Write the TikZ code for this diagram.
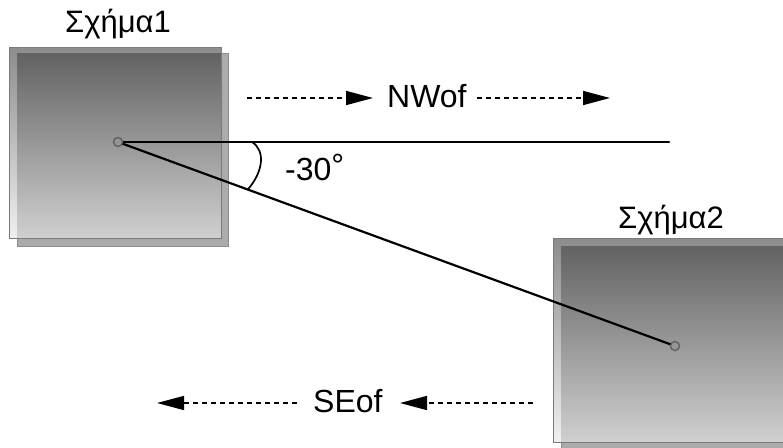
\documentclass[tikz,border=0pt]{standalone}
\usepackage{fontspec}
\setmainfont{Liberation Sans}
\usetikzlibrary{arrows.meta,calc}
\definecolor{backFill}{HTML}{ABABAB}
\definecolor{backLine}{HTML}{8E8E8E}
\definecolor{stripTop}{HTML}{8C8C8C}
\definecolor{stripBot}{HTML}{F0F0F0}
\definecolor{coreTop}{HTML}{626262}
\definecolor{coreBot}{HTML}{D0D0D0}
\definecolor{frameLine}{HTML}{7A7A7A}
\definecolor{dotFill}{HTML}{959595}
\definecolor{dotLine}{HTML}{626262}
\begin{document}
\begin{tikzpicture}[x=1pt,y=-1pt,
  lbl/.style={font=\fontsize{32}{32}\selectfont, inner sep=0pt, anchor=base west},
  title/.style={lbl, font=\fontsize{31}{31}\selectfont},
  dasharrow/.style={line width=1.6pt, dash pattern=on 5pt off 4pt,
    -{Triangle[length=27pt,width=14pt,sep=0pt]}},
  link/.style={line width=2.2pt, line cap=round},
  spot/.style={circle, minimum size=9pt, inner sep=0pt, fill=dotFill, draw=dotLine, line width=1.4pt},
  arcline/.style={line width=1.7pt}
]
\useasboundingbox (0,0) rectangle (783,447);
\clip (0,0) rectangle (783,447);

% --- first figure: back plate, front plate, overlapping core ---
\fill[backFill] (17,53) rectangle (228,246);
\draw[backLine, line width=1pt] (17,53) rectangle (228,246);
\shade[top color=stripTop, bottom color=stripBot] (9,47) rectangle (221,238);
\shade[top color=coreTop, bottom color=coreBot] (17,53) rectangle (221,238);
\draw[frameLine, line width=1pt] (9,47) rectangle (221,238);

% --- second figure ---
\fill[backFill] (561,246) rectangle (800,460);
\draw[backLine, line width=1pt] (561,246) rectangle (800,460);
\shade[top color=stripTop, bottom color=stripBot] (553,238) rectangle (795,442);
\shade[top color=coreTop, bottom color=coreBot] (561,246) rectangle (795,442);
\draw[frameLine, line width=1pt] (553,238) rectangle (795,442);

% --- titles ---
\node[title] (t1) at (65,32) {Σχήμα1};
\node[title] (t2) at (618,228) {Σχήμα2};

% --- reference points and connecting lines ---
\coordinate (c1) at (118,142);
\coordinate (c2) at (675,346);
\coordinate (hEnd) at (669,142);
\draw[link] (c1) -- (hEnd);
\draw[link] (c1) -- (c2);
\node[spot] (d1) at (c1) {};
\node[spot] (d2) at (c2) {};

% --- angle mark ---
\coordinate (a1) at (252,142);
\coordinate (a2) at ($(c1)!0.233!(c2)$);
\draw[arcline] (a1) .. controls (266,151) and (263,172) .. (a2);
\node[lbl] (ang) at (285,180) {-30\raisebox{4pt}{°}};

% --- direction arrows ---
\node[lbl] (nw) at (387,107) {NWof};
\coordinate (n1s) at (247,98);
\coordinate (n1e) at (373,98);
\coordinate (n2s) at (477,98);
\coordinate (n2e) at (610,98);
\draw[dasharrow] (n1s) -- (n1e);
\draw[dasharrow] (n2s) -- (n2e);

\node[lbl] (se) at (313,412) {SEof};
\coordinate (s1s) at (297,403);
\coordinate (s1e) at (157,403);
\coordinate (s2s) at (533,403);
\coordinate (s2e) at (400,403);
\draw[dasharrow] (s1s) -- (s1e);
\draw[dasharrow] (s2s) -- (s2e);
\end{tikzpicture}
\end{document}
